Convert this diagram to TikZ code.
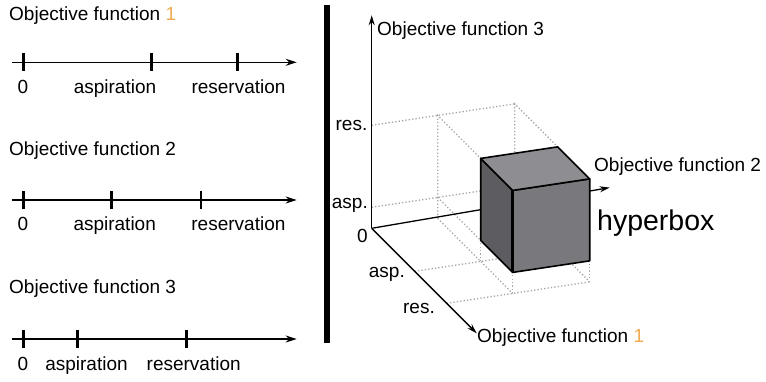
\documentclass[tikz,border=0pt]{standalone}
\usepackage{fontspec}
\setmainfont{Liberation Sans}
\usepackage{xcolor}
\usetikzlibrary{arrows.meta}

\definecolor{onecol}{RGB}{240,170,80}
\definecolor{topgray}{RGB}{142,142,146}
\definecolor{leftgray}{RGB}{92,92,97}
\definecolor{frontgray}{RGB}{120,120,125}

\begin{document}
\begin{tikzpicture}[
    x=1pt, y=-1pt,
    lbl/.style={font=\fontsize{19}{22}\selectfont, inner sep=0pt},
    biglbl/.style={font=\fontsize{28.5}{32}\selectfont, inner sep=0pt},
    axis/.style={line width=1.4pt, -{Stealth[length=11pt,width=7pt]}},
    axisthree/.style={line width=1.3pt, -{Stealth[length=10pt,width=6pt]}},
    tickmark/.style={fill=black, inner sep=0pt, minimum width=2.8pt, minimum height=18pt},
    guide/.style={draw=gray!70, line width=1.3pt, dash pattern=on 1.3pt off 2.1pt},
    face/.style={draw=black, line width=1.6pt, line join=round}
]
\useasboundingbox (0,0) rectangle (766,381);

% Objective function 1
\node[lbl, anchor=base west] (title1) at (9,20.7) {Objective function \textcolor{onecol}{1}};
\coordinate (start1) at (11.7,62.3);
\coordinate (end1) at (296.7,62.3);
\draw[axis] (start1) -- (end1);
\node[tickmark] (zero1) at (23.3,62.3) {};
\node[tickmark] (asp1) at (151.7,62.3) {};
\node[tickmark] (res1) at (237.7,62.3) {};
\node[lbl, anchor=base] (zerolbl1) at (23,93) {0};
\node[lbl, anchor=base] (asplbl1) at (115,93) {aspiration};
\node[lbl, anchor=base] (reslbl1) at (238.5,93) {reservation};

% Objective function 2
\node[lbl, anchor=base west] (title2) at (9,155) {Objective function 2};
\coordinate (start2) at (11.7,200);
\coordinate (end2) at (296.7,200);
\draw[axis] (start2) -- (end2);
\node[tickmark] (zero2) at (23.3,200) {};
\node[tickmark] (asp2) at (111.7,200) {};
\node[tickmark] (res2) at (201,200) {};
\node[lbl, anchor=base] (zerolbl2) at (23,230) {0};
\node[lbl, anchor=base] (asplbl2) at (114.7,230) {aspiration};
\node[lbl, anchor=base] (reslbl2) at (238.4,230) {reservation};

% Objective function 3
\node[lbl, anchor=base west] (title3) at (9,293.3) {Objective function 3};
\coordinate (start3) at (11.7,339);
\coordinate (end3) at (296.7,339);
\draw[axis] (start3) -- (end3);
\node[tickmark] (zero3) at (23.3,339) {};
\node[tickmark] (asp3) at (77.3,339) {};
\node[tickmark] (res3) at (186.7,339) {};
\node[lbl, anchor=base] (zerolbl3) at (23,370) {0};
\node[lbl, anchor=base] (asplbl3) at (86.5,370) {aspiration};
\node[lbl, anchor=base] (reslbl3) at (193.7,370) {reservation};

% Separator
\fill (323.5,5) rectangle (330,343);

% 3D view
\begin{scope}[shift={(371.7,228.3)}, x={(1pt,-1pt)}, y={(1pt,0.15pt)}, z={(0pt,1pt)}]
\coordinate (O) at (0,0,0);
\coordinate (tip1) at (105,0,0);
\coordinate (tip2) at (0,238,5);
\coordinate (tip3) at (0,0,213);

% guide lines
\draw[guide] (0,0,103) -- (0,143,103);
\draw[guide] (0,0,21) -- (0,143,21);
\draw[guide] (0,66,0) -- (0,66,103) -- (43,66,103);
\draw[guide] (0,143,0) -- (0,143,103) -- (43,143,103);
\draw[guide] (0,66,21) -- (43,66,21);
\draw[guide] (0,143,21) -- (43,143,21);
\draw[guide] (43,0,0) -- (43,143,0);
\draw[guide] (75,0,0) -- (75,143,0);
\draw[guide] (0,66,0) -- (75,66,0);
\draw[guide] (0,143,0) -- (75,143,0);
\draw[guide] (43,66,0) -- (43,66,21);
\draw[guide] (75,66,0) -- (75,66,21);
\draw[guide] (75,143,0) -- (75,143,21);
\draw[guide] (43,143,0) -- (43,143,21);

% axes
\draw[axisthree] (O) -- (tip3);
\draw[axisthree] (O) -- (tip1);
\draw[axisthree] (O) -- (tip2);

% hyperbox
\filldraw[face, fill=leftgray] (43,66,21) -- (75,66,21) -- (75,66,103) -- (43,66,103) -- cycle;
\filldraw[face, fill=frontgray] (75,66,21) -- (75,143,21) -- (75,143,103) -- (75,66,103) -- cycle;
\filldraw[face, fill=topgray] (43,66,103) -- (75,66,103) -- (75,143,103) -- (43,143,103) -- cycle;
\draw[line width=2.6pt] (75,66,21) -- (75,66,103);
\end{scope}

% Labels
\node[lbl, anchor=base west] (obj3) at (377,35) {Objective function 3};
\node[lbl, anchor=base west] (obj2) at (594,171.7) {Objective function 2};
\node[lbl, anchor=base west] (obj1) at (477,342) {Objective function \textcolor{onecol}{1}};
\node[biglbl, anchor=base west] (hyper) at (597,230) {hyperbox};
\node[lbl, anchor=base east] (zres) at (367.5,130.5) {res.};
\node[lbl, anchor=base east] (zasp) at (368,208) {asp.};
\node[lbl, anchor=base east] (origin) at (368,242) {0};
\node[lbl, anchor=base east] (xasp) at (405,277) {asp.};
\node[lbl, anchor=base east] (xres) at (435,313) {res.};

\end{tikzpicture}
\end{document}
